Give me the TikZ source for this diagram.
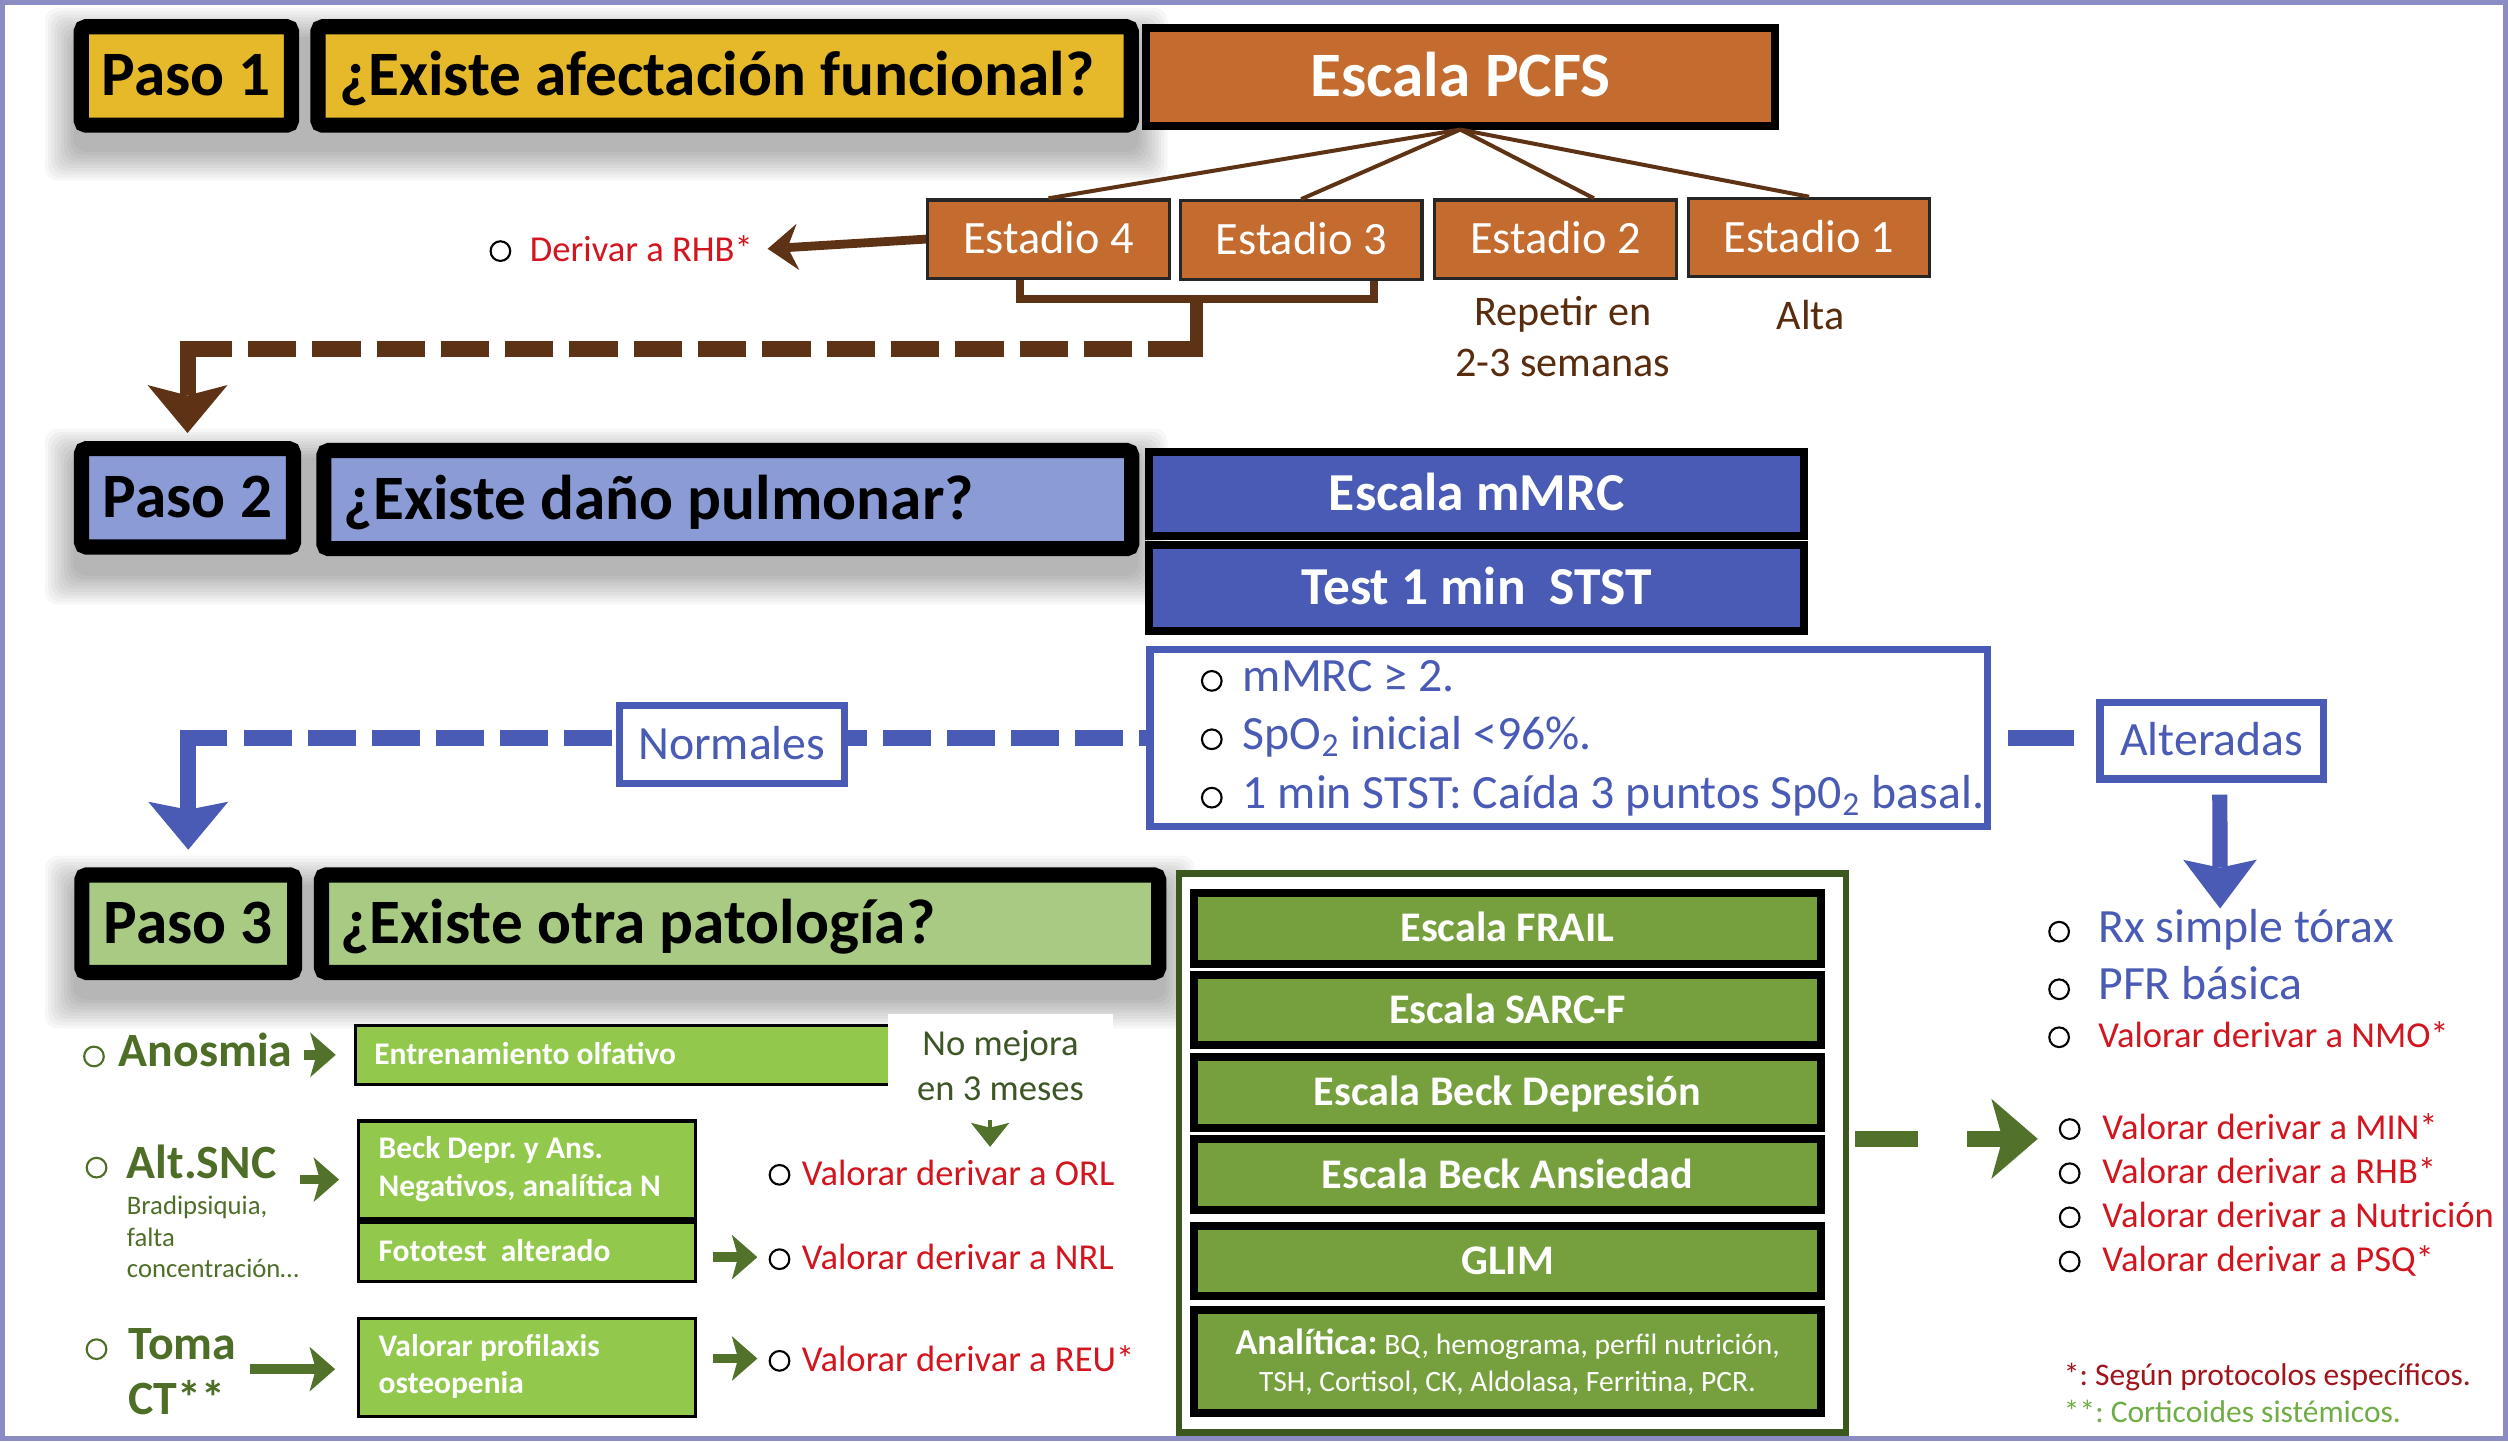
\documentclass[tikz,border=0pt]{standalone}
\usepackage{fontspec}
\setmainfont{Carlito}
\usetikzlibrary{arrows.meta,calc}
\definecolor{pyellow}{RGB}{230,185,43}
\definecolor{porange}{RGB}{196,108,48}
\definecolor{pbrown}{RGB}{94,50,20}
\definecolor{pbrowntext}{RGB}{90,44,14}
\definecolor{plav}{RGB}{138,155,213}
\definecolor{pblue}{RGB}{74,91,181}
\definecolor{plgreen}{RGB}{168,202,130}
\definecolor{pmgreen}{RGB}{118,160,62}
\definecolor{pbgreen}{RGB}{146,200,76}
\definecolor{pdgreen}{RGB}{78,110,40}
\definecolor{pngreen}{RGB}{62,86,38}
\definecolor{pframe}{RGB}{61,88,30}
\definecolor{pagreen}{RGB}{82,114,43}
\definecolor{pred}{RGB}{210,21,30}
\definecolor{pfred}{RGB}{160,20,28}
\definecolor{pfgreen}{RGB}{112,173,71}
\definecolor{pborder}{RGB}{140,140,196}
\newdimen\pxu
\pxu=0.2mm
\newcommand\fs[1]{\fontsize{#1}{#1}\selectfont}
\newcommand\bul{\tikz[baseline=0pt]\draw[line width=0.75pt] (0pt,3.7pt) circle[radius=3.5pt];}
\newcommand\bulat[1]{\llap{\makebox[2\dimexpr#1\pxu\relax]{\textcolor{black}{\bul}}}}
\newcommand\gbulat[1]{\llap{\makebox[2\dimexpr#1\pxu\relax]{\bul}}}
\newcommand\sshadow[4]{\foreach \e in {0,2,...,18}{\fill[black,opacity=0.03,rounded corners=8\pxu] ({#1-\e},{#2+11-\e}) rectangle ({#3+\e},{#4+12+\e});}}
\begin{document}
\frenchspacing
\begin{tikzpicture}[x=0.2mm,y=-0.2mm,
  stepbox/.style={draw=black,line width=9.5\pxu,rounded corners=3\pxu,inner sep=0pt,text=black,font=\fs{22.5}\bfseries,text height=14.2pt,text depth=0pt},
  sclbox/.style={draw=black,line width=5\pxu,inner sep=0pt,text=white},
  estbox/.style={draw=black!85,line width=2\pxu,fill=porange,inner sep=0pt,text=white,font=\fs{16.5},minimum width=151\pxu,minimum height=49\pxu,text height=10.4pt,text depth=0pt},
  outbox/.style={draw=pblue,line width=4.5\pxu,fill=white,inner sep=0pt,text=pblue,font=\fs{17}},
  gbox/.style={draw=black,line width=2\pxu,fill=pbgreen,inner sep=0pt,text=white,font=\fs{11.2}\bfseries},
  item/.style={anchor=base west,inner sep=0pt},
  lab/.style={anchor=base west,inner sep=0pt,text=pdgreen,font=\fs{17}\bfseries},
  brline/.style={draw=pbrown,line width=5\pxu},
  garrow/.style={draw=pagreen,line width=6\pxu,-{Stealth[length=3.2mm,width=5.6mm,inset=0.8mm,line width=0pt]}},
  barrow/.style={draw=pblue,line width=10\pxu,-{Stealth[length=6mm,width=10mm,inset=1mm,line width=0pt]}},
  fanline/.style={draw=pbrown,line width=2.5\pxu}]
\useasboundingbox (0,0) rectangle (1568,901);
\fill[white] (0,0) rectangle (1568,901);
\sshadow{46}{12}{712}{83}
\sshadow{46}{275}{712}{348}
\sshadow{46}{542}{729}{613}
% ---------------- Paso 1
\node[stepbox,fill=pyellow,minimum width=131.5\pxu,minimum height=61.5\pxu] (p1) at (116.5,47.5) {Paso 1};
\node[stepbox,fill=pyellow,minimum width=508.5\pxu,minimum height=61.5\pxu] (q1) at (453,47.5) {\makebox[482\pxu][l]{¿Existe afectación funcional?}};
\node[sclbox,fill=porange,minimum width=393\pxu,minimum height=61\pxu,font=\fs{22.5}\bfseries,text height=14.2pt,text depth=0pt] (pcfs) at (913,48) {Escala PCFS};
\node[estbox] (e4) at (655.5,149.5) {Estadio 4};
\node[estbox] (e3) at (813.5,150) {Estadio 3};
\node[estbox] (e2) at (972.5,149.5) {Estadio 2};
\node[estbox] (e1) at (1131,148.5) {Estadio 1};
\draw[fanline] (pcfs.south) -- (e4.north);
\draw[fanline] (pcfs.south) -- (e3.north);
\draw[fanline] (pcfs.south) -- ($(e2.north)+(24,0)$);
\draw[fanline] (pcfs.south) -- (e1.north);
\node[align=center,text=pbrowntext,font=\fontsize{15}{6.4mm}\selectfont,inner sep=0pt] (rep) at (977,210.3) {Repetir en\\2-3 semanas};
\node[text=pbrowntext,font=\fs{15},inner sep=0pt] (alta) at (1132,197) {Alta};
\node[item,text=pred,font=\fs{13}] (rhb) at (331,163.5) {\bulat{18.5}Derivar a RHB*};
\draw[draw=pbrown,line width=5.5\pxu,-{Stealth[length=3.8mm,width=5.8mm,inset=1.3mm,line width=0pt]}] (e4.west) -- ($(rhb.east)+(9,0)$);
\coordinate (brk) at (748,187);
\draw[brline] (e4.south -| 638,0) -- (638,187) -- (859,187) -- (e3.south -| 859,0);
\draw[brline,line width=8.5\pxu] (brk) -- (748,223);
\draw[draw=pbrown,line width=10\pxu,dash pattern=on 6.04mm off 2mm] (748,218) -- (155,218);
% ---------------- Paso 2
\node[stepbox,fill=plav,minimum width=132.5\pxu,minimum height=61.5\pxu] (p2) at (117.25,311.25) {Paso 2};
\node[stepbox,fill=plav,minimum width=505\pxu,minimum height=61.3\pxu] (q2) at (455,312.35) {\makebox[480\pxu][l]{¿Existe daño pulmonar?}};
\draw[draw=pbrown,line width=10\pxu,-{Stealth[length=6mm,width=10mm,inset=1.3mm,line width=0pt]}] (145,218) -- (p2.north |- 0,218) -- ($(p2.north)+(0,-5)$);
\node[sclbox,fill=pblue,minimum width=409.7\pxu,minimum height=52.4\pxu,font=\fs{19}\bfseries,text height=12pt,text depth=0pt] (mmrc) at (923.2,308.8) {Escala mMRC};
\node[sclbox,fill=pblue,minimum width=409.7\pxu,minimum height=53.4\pxu,font=\fs{19}\bfseries,text height=12pt,text depth=0pt] (stst) at (923.2,367.7) {Test 1 min\ \ STST};
\node[outbox,minimum width=523.4\pxu,minimum height=110.2\pxu,font=\fontsize{17}{7.3mm}\selectfont] (crit) at (980.7,461.4) {\makebox[407.4\pxu][l]{\begin{tabular}{@{}l@{}}\bulat{19.4}mMRC ≥ 2.\\ \bulat{19.4}SpO\textsubscript{2} inicial <96\%.\\ \bulat{19.4}1 min STST: Caída 3 puntos Sp0\textsubscript{2} basal.\end{tabular}}};
\node[outbox,minimum width=140.5\pxu,minimum height=48.5\pxu,text height=10.7pt,text depth=0pt] (norm) at (457.5,465.5) {Normales};
\node[outbox,minimum width=139.8\pxu,minimum height=48\pxu,text height=10.7pt,text depth=0pt] (alt) at (1382.8,463) {Alteradas};
\draw[draw=pblue,line width=10\pxu,dash pattern=on 6mm off 2mm,dash phase=3.6mm] (norm.east |- crit.west) -- (crit.west);
\draw[draw=pblue,line width=10\pxu,dash pattern=on 6mm off 2mm,dash phase=7.5mm] (norm.west |- crit.west) -- (152.5,461.4);
\draw[draw=pblue,line width=10\pxu,shorten <=10.75\pxu,shorten >=14.25\pxu] (crit.east) -- (alt.west |- crit.east);
\coordinate (atip) at (1388,568);
\draw[barrow,-{Stealth[length=6.1mm,width=9.2mm,inset=1mm,line width=0pt]},line width=9.5\pxu,shorten <=7.5\pxu] ($(alt.south)+(5,0)$) -- (atip);
% ---------------- Paso 3
\node[stepbox,fill=plgreen,minimum width=133\pxu,minimum height=61\pxu] (p3) at (117.7,577.5) {Paso 3};
\node[stepbox,fill=plgreen,minimum width=523.4\pxu,minimum height=61\pxu] (q3) at (462.7,577.5) {\makebox[499.4\pxu][l]{¿Existe otra patología?}};
\coordinate (nl) at (142,461.4);
\draw[barrow] (nl) -- (p3.north |- nl) -- ($(p3.north)+(0,-11)$);
% green panel
\node[draw=pframe,line width=4\pxu,fill=white,minimum width=417\pxu,minimum height=349.6\pxu,inner sep=0pt] (frame) at (945.5,720.8) {};
\node[sclbox,fill=pmgreen,minimum width=392\pxu,minimum height=44\pxu,font=\fs{15}\bfseries,text height=9.5pt,text depth=0pt] (frail) at (942.5,580.5) {Escala FRAIL};
\node[sclbox,fill=pmgreen,minimum width=392\pxu,minimum height=44\pxu,font=\fs{15}\bfseries,text height=9.5pt,text depth=0pt] (sarc) at (942.5,631.5) {Escala SARC-F};
\node[sclbox,fill=pmgreen,minimum width=392\pxu,minimum height=44\pxu,font=\fs{15}\bfseries,text height=9.5pt,text depth=0pt] (beckd) at (942.5,683) {Escala Beck Depresión};
\node[sclbox,fill=pmgreen,minimum width=392\pxu,minimum height=44\pxu,font=\fs{15}\bfseries,text height=9.5pt,text depth=0pt] (becka) at (942.5,734.4) {Escala Beck Ansiedad};
\node[sclbox,fill=pmgreen,minimum width=392\pxu,minimum height=44\pxu,font=\fs{15}\bfseries,text height=9.5pt,text depth=0pt] (glim) at (942.5,788.5) {GLIM};
\node[sclbox,fill=pmgreen,minimum width=392\pxu,minimum height=64.4\pxu,align=center,font=\fontsize{10.5}{13.2}\selectfont] (anal) at (942.5,851.3) {{\fs{13}\bfseries Analítica:} BQ, hemograma, perfil nutrición,\\TSH, Cortisol, CK, Aldolasa, Ferritina, PCR.};
\coordinate (gtip) at (1274,712);
\draw[draw=pagreen,line width=10\pxu,dash pattern=on 7.8mm off 6.2mm,shorten <=4\pxu,-{Stealth[length=5.8mm,width=10mm,inset=1.4mm,line width=0pt]}] (frame.east |- 0,712) -- (gtip);
% right lists
\node[item,text=pblue,font=\fs{17}] (rx) at (1311.5,589) {\bulat{24.5}Rx simple tórax};
\node[item,text=pblue,font=\fs{17}] (pfr) at (1311.5,625) {\bulat{24.5}PFR básica};
\node[item,text=pred,font=\fs{13}] (nmo) at (1311.5,655) {\bulat{24.5}Valorar derivar a NMO*};
\node[item,text=pred,font=\fs{13}] (min) at (1314,712.4) {\bulat{20.4}Valorar derivar a MIN*};
\node[item,text=pred,font=\fs{13}] (rhbb) at (1314,740) {\bulat{20.4}Valorar derivar a RHB*};
\node[item,text=pred,font=\fs{13}] (nut) at (1314,767.6) {\bulat{20.4}Valorar derivar a Nutrición};
\node[item,text=pred,font=\fs{13}] (psq) at (1314,795.2) {\bulat{20.4}Valorar derivar a PSQ*};
\node[item,text=pfred,font=\fs{11.2}] (fn1) at (1290,866) {*: Según protocolos específicos.};
\node[item,text=pfgreen,font=\fs{11.2}] (fn2) at (1290,889.5) {**: Corticoides sistémicos.};
% left bottom
\node[lab] (anos) at (74,667) {\gbulat{15.6}Anosmia};
\node[gbox,minimum width=339.6\pxu,minimum height=37\pxu,text height=7.1pt,text depth=0pt] (ent) at (392.2,659.5) {\makebox[316.4\pxu][l]{Entrenamiento olfativo}};
\node[fill=white,inner sep=0pt,minimum width=141\pxu,minimum height=64\pxu,align=center,text=pngreen,font=\fontsize{13}{5.6mm}\selectfont] (nomej) at (625.5,666) {No mejora\\en 3 meses};
\draw[draw=pagreen,line width=3\pxu,shorten <=2\pxu,-{Stealth[length=3mm,width=4.8mm,inset=0.6mm,line width=0pt]}] (nomej.south -| 619,0) -- (619,717);
\draw[garrow,shorten <=7\pxu,shorten >=11.5\pxu] (anos.east |- ent.west) -- (ent.west);
\node[lab] (snc) at (79,736.5) {\gbulat{19}Alt.SNC};
\node[item,text=pdgreen,font=\fs{9.5}] (sncb1) at (79,759.4) {Bradipsiquia,};
\node[item,text=pdgreen,font=\fs{9.5}] (sncb2) at (79,779.2) {falta};
\node[item,text=pdgreen,font=\fs{9.5}] (sncb3) at (79,799) {concentración…};
\node[gbox,minimum width=211\pxu,minimum height=61.2\pxu,font=\fontsize{11.2}{4.8mm}\selectfont\bfseries] (beck) at (329.5,731.5) {\makebox[185.6\pxu][l]{\begin{tabular}{@{}l@{}}Beck Depr. y Ans.\\Negativos, analítica N\end{tabular}}};
\node[gbox,minimum width=211\pxu,minimum height=37\pxu,text height=7.1pt,text depth=0pt] (foto) at (329.5,782.5) {\makebox[185.6\pxu][l]{Fototest\ \ alterado}};
\node[gbox,minimum width=211\pxu,minimum height=61.4\pxu,font=\fontsize{11.2}{4.65mm}\selectfont\bfseries] (prof) at (329.5,855) {\makebox[185.6\pxu][l]{\begin{tabular}{@{}l@{}}Valorar profilaxis\\osteopenia\end{tabular}}};
\draw[garrow,shorten <=14.4\pxu,shorten >=11\pxu] (snc.east |- 0,737.5) -- (beck.west |- 0,737.5);
\node[lab] (toma) at (80,850) {\gbulat{20}Toma};
\node[lab] (ct) at (80,884.4) {CT**};
\draw[garrow,shorten >=13.5\pxu] ($(toma.east |- prof.west)+(8,1)$) -- ($(prof.west)+(0,1)$);
\node[item,text=pred,font=\fs{13}] (orl) at (501,741) {\bulat{14}Valorar derivar a ORL};
\node[item,text=pred,font=\fs{13}] (nrl) at (501,793.75) {\bulat{14}Valorar derivar a NRL};
\node[item,text=pred,font=\fs{13}] (reu) at (501,857.3) {\bulat{14}Valorar derivar a REU*};
\draw[garrow,shorten <=10\pxu,shorten >=27.5\pxu] (foto.east |- nrl.west) -- (nrl.west);
\draw[garrow,shorten <=10\pxu,shorten >=27.5\pxu] (prof.east |- reu.west) -- (reu.west);
% page border
\draw[pborder,line width=3\pxu] (1.5,1.5) rectangle (1566.5,899.5);
\end{tikzpicture}
\end{document}
